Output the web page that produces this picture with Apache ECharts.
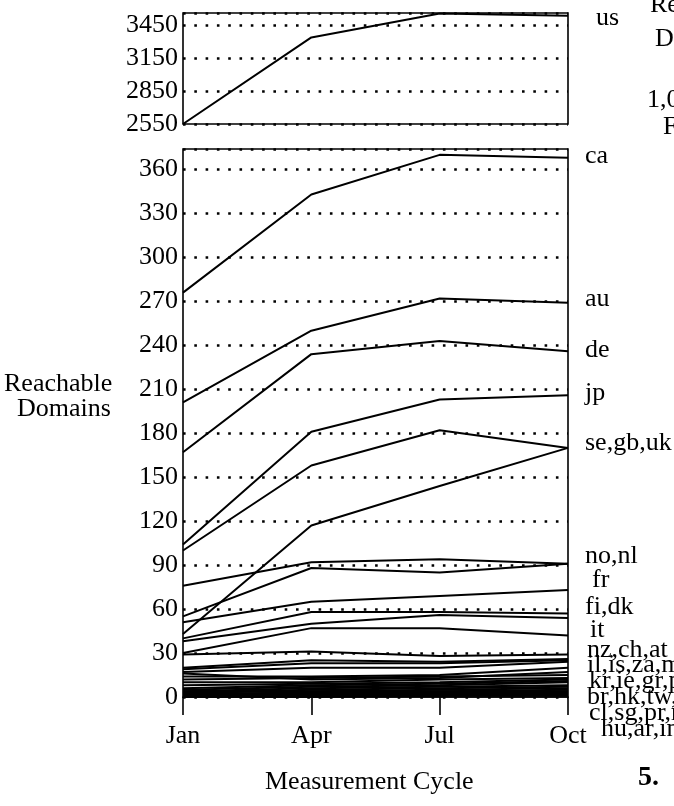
<!DOCTYPE html>
<html>
<head>
<meta charset="utf-8">
<script src="https://cdn.jsdelivr.net/npm/echarts/dist/echarts.min.js"></script>
<style>
html,body{margin:0;padding:0;background:#fff;}
#c{width:674px;height:806px;}
</style>
</head>
<body>
<div id="c"></div>
<script>
// ---- data ----
const months = ['Jan', 'Apr', 'Jul', 'Oct'];
const usTicks = [2550, 2850, 3150, 3450];
const mainTicks = [0, 30, 60, 90, 120, 150, 180, 210, 240, 270, 300, 330, 360];

const us = [2550, 3338, 3556, 3536];

const ca = [276, 343, 370, 368];
const au = [201, 250, 272, 269];
const de = [167, 234, 243, 236];
const jp = [104, 181, 203, 206];
const se = [100, 158, 182, 170];
const gb = [43, 117, 144, 170];
const no = [76, 92, 94, 91];
const nl = [55, 88, 85, 91];
const fr = [51, 65, 69, 73];
const fi = [40, 58, 58, 57];
const dk = [38, 50, 56, 54];
const it = [30, 47, 47, 42];
const nz = [29, 31, 28, 29];
const ch = [20, 25, 24, 26];
const at = [19, 23, 23, 25];
const il = [17, 20, 20, 24];
const is = [14, 14, 15, 20];
const za = [16, 12, 13, 17];
const mx = [12, 13, 14, 15];
const kr = [10, 10, 12, 13];
const ie = [8, 9, 10, 12];
const gr = [6, 8, 9, 11];
const pt = [5, 7, 8, 10];
const br = [4, 6, 7, 8];
const hk = [3, 5, 6, 7];
const tw = [4, 4, 5, 6];
const cl = [2, 3, 4, 5];
const sg = [3, 4, 4, 4];
const pr = [1, 3, 3, 4];
const hu = [1, 2, 2, 3];
const ar = [0, 1, 2, 3];
const inn = [1, 1, 1, 2];
const cz = [2, 2, 3, 3];
const pl = [0, 1, 1, 1];
const ru = [1, 2, 2, 2];
const ve = [0, 0, 1, 1];

const mainSeries = {
  ca, au, de, jp, se, gb, no, nl, fr, fi, dk, it, nz, ch, at, il, is, za, mx,
  kr, ie, gr, pt, br, hk, tw, cl, sg, pr, hu, ar, 'in': inn, cz, pl, ru, ve
};

// right-hand labels: text and its layout position (left x, centre y)
const labelTexts = ['us', 'ca', 'au', 'de', 'jp', 'se,gb,uk', 'no,nl', 'fr', 'fi,dk', 'it',
  'nz,ch,at', 'il,is,za,mx', 'kr,ie,gr,pt', 'br,hk,tw,cz', 'cl,sg,pr,ru', 'hu,ar,in,pl'];
const labelPos = [[596, 18], [585, 156], [585, 299], [585, 350], [585, 393], [585, 443],
  [585, 556], [592, 580], [585, 607], [590, 630], [587, 650], [587, 665], [589, 681],
  [587, 697], [589, 713], [601, 729]];

// ---- chart ----
const FONT = 'Liberation Serif';
const FS = 26;
const F = FS + 'px "' + FONT + '"';
const chart = echarts.init(document.getElementById('c'), null, {renderer: 'canvas'});

const dotted = {color: '#000', width: 2.6, type: [2.6, 8.7]};
const lineStyle = {color: '#000', width: 2};

const series = [{
  type: 'line', name: 'us', data: us, xAxisIndex: 0, yAxisIndex: 0,
  symbol: 'none', lineStyle, animation: false
}];
Object.keys(mainSeries).forEach(k => {
  series.push({
    type: 'line', name: k, data: mainSeries[k], xAxisIndex: 1, yAxisIndex: 1,
    symbol: 'none', lineStyle, animation: false
  });
});

const graphic = labelTexts.map((t, i) => ({
  type: 'text', left: labelPos[i][0], top: labelPos[i][1] - 13, silent: true,
  style: {text: t, font: F, fill: '#000'}
}));
graphic.push(
  {type: 'text', left: 4, top: 371, style: {text: 'Reachable', font: F, fill: '#000'}},
  {type: 'text', left: 17, top: 396, style: {text: 'Domains', font: F, fill: '#000'}},
  {type: 'text', left: 265, top: 769, style: {text: 'Measurement Cycle', font: F, fill: '#000'}},
  {type: 'text', left: 638, top: 764, style: {text: '5.', font: 'bold 28px "' + FONT + '"', fill: '#000'}},
  {type: 'text', left: 650, top: -8, style: {text: 'Reachable', font: F, fill: '#000'}},
  {type: 'text', left: 655, top: 26, style: {text: 'Domains', font: F, fill: '#000'}},
  {type: 'text', left: 647, top: 87, style: {text: '1,000', font: F, fill: '#000'}},
  {type: 'text', left: 663, top: 114, style: {text: 'From', font: F, fill: '#000'}}
);

const tickFmt = ticks => v => (ticks.indexOf(v) >= 0 ? String(v) : '');

chart.setOption({
  backgroundColor: '#fff',
  animation: false,
  textStyle: {fontFamily: FONT},
  grid: [
    {left: 183, top: 13, width: 385, height: 111, show: true, borderColor: '#000', borderWidth: 1.6},
    {left: 183, top: 149, width: 385, height: 548, show: true, borderColor: '#000', borderWidth: 1.6}
  ],
  xAxis: [
    {type: 'category', gridIndex: 0, data: months, boundaryGap: false,
      axisLine: {show: false}, axisTick: {show: false}, axisLabel: {show: false}, splitLine: {show: false}},
    {type: 'category', gridIndex: 1, data: months, boundaryGap: false,
      axisLine: {show: true, lineStyle: {color: '#000', width: 1.6}},
      axisTick: {show: true, length: 18, lineStyle: {color: '#000', width: 1.6}},
      axisLabel: {color: '#000', fontSize: FS, fontFamily: FONT, margin: 26},
      splitLine: {show: false}}
  ],
  yAxis: [
    {type: 'value', gridIndex: 0, min: 2550, max: 3560, interval: 300,
      axisLine: {show: false}, axisTick: {show: false},
      axisLabel: {color: '#000', fontSize: FS, fontFamily: FONT, margin: 5, formatter: tickFmt(usTicks), showMaxLabel: false},
      splitLine: {show: true, lineStyle: dotted}},
    {type: 'value', gridIndex: 1, min: 0, max: 374, interval: 30,
      axisLine: {show: false}, axisTick: {show: false},
      axisLabel: {color: '#000', fontSize: FS, fontFamily: FONT, margin: 5, formatter: tickFmt(mainTicks), showMaxLabel: false},
      splitLine: {show: true, lineStyle: dotted}}
  ],
  series,
  graphic
});
</script>
</body>
</html>
